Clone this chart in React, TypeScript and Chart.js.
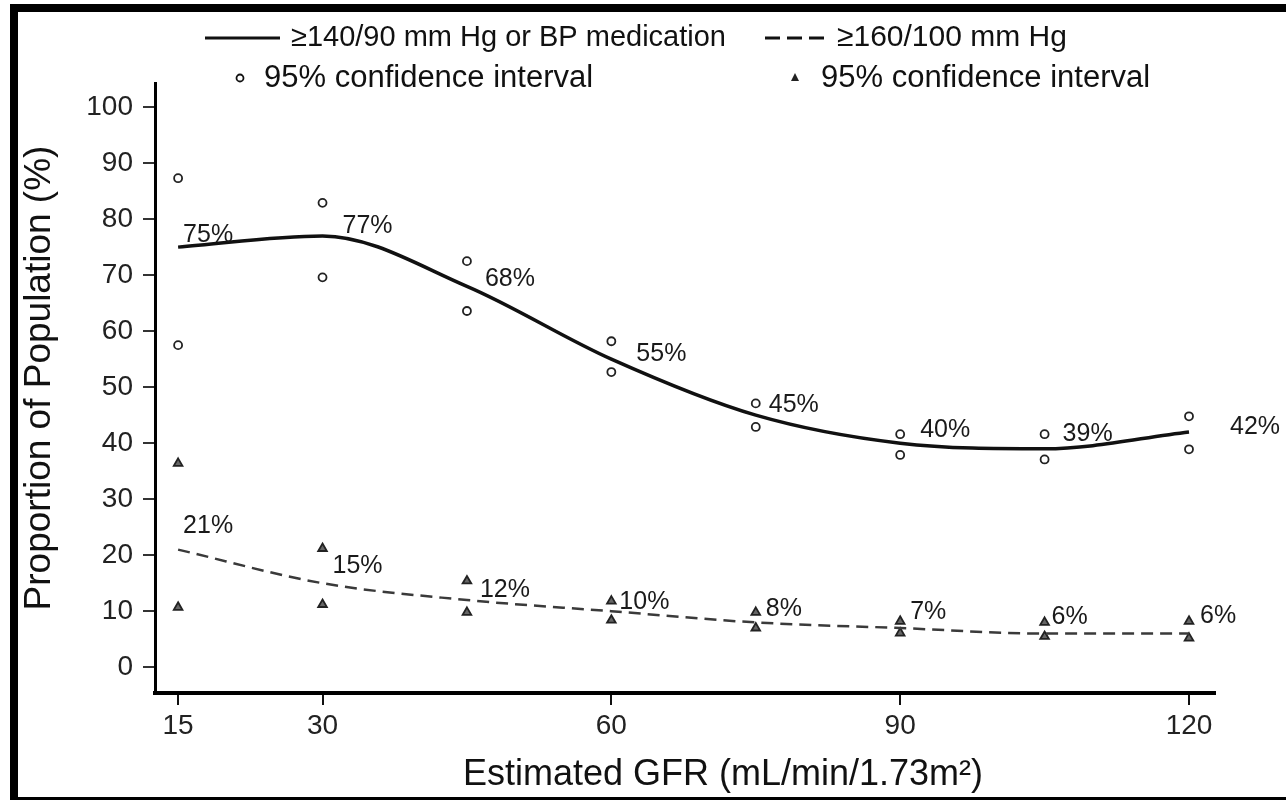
import React, { useEffect, useRef } from "react";
import { Chart, registerables } from "chart.js";

Chart.register(...registerables);

const xValues = [15, 30, 45, 60, 75, 90, 105, 120];
const htnValues = [75, 77, 68, 55, 45, 40, 39, 42];
const htnCiUpper = [87.3, 82.9, 72.5, 58.2, 47.1, 41.6, 41.6, 44.8];
const htnCiLower = [57.5, 69.6, 63.6, 52.7, 42.9, 37.9, 37.1, 38.9];
const severeValues = [21, 15, 12, 10, 8, 7, 6, 6];
const severeCiUpper = [36.4, 21.2, 15.4, 11.8, 9.8, 8.2, 8.0, 8.2];
const severeCiLower = [10.7, 11.2, 9.8, 8.4, 7.0, 6.1, 5.5, 5.2];
const xTickValues = [15, 30, 60, 90, 120];
const yTickValues = [0, 10, 20, 30, 40, 50, 60, 70, 80, 90, 100];

const legendLabels = [
  "\u2265140/90 mm Hg or BP medication",
  "\u2265160/100 mm Hg",
  "95% confidence interval",
  "95% confidence interval",
];
const xTitle = "Estimated GFR (mL/min/1.73m\u00B2)";
const yTitle = "Proportion of Population (%)";

const FONT = '"Liberation Sans", Arial, Helvetica, sans-serif';

const toPoints = (ys: number[]) => xValues.map((x, i) => ({ x, y: ys[i] }));

// label offsets (pixels) relative to each point
const htnLabelOffsets = [
  [5, -12], [20, -10], [18, -7], [25, -5], [13, -10], [20, -13], [18, -15], [41, -5],
];
const severeLabelOffsets = [
  [5, -23], [10, -17], [13, -10], [8, -9], [10, -13], [10, -16], [7, -17], [11, -18],
];

const decorPlugin = {
  id: "decor",
  afterDatasetsDraw(chart: any) {
    const ctx = chart.ctx;
    ctx.save();
    ctx.fillStyle = "#1a1a1a";
    ctx.font = `25px ${FONT}`;
    ctx.textAlign = "left";
    ctx.textBaseline = "middle";
    const m0 = chart.getDatasetMeta(0);
    const m1 = chart.getDatasetMeta(1);
    m0.data.forEach((pt: any, i: number) => {
      const [dx, dy] = htnLabelOffsets[i];
      ctx.fillText(`${htnValues[i]}%`, pt.x + dx, pt.y + dy);
    });
    m1.data.forEach((pt: any, i: number) => {
      const [dx, dy] = severeLabelOffsets[i];
      ctx.fillText(`${severeValues[i]}%`, pt.x + dx, pt.y + dy);
    });
    ctx.restore();
  },
  afterDraw(chart: any) {
    const ctx = chart.ctx;
    ctx.save();
    // frame
    ctx.fillStyle = "#000";
    ctx.fillRect(10, 4, 1276, 8);
    ctx.fillRect(10, 4, 8, 796);
    ctx.fillRect(10, 797, 1276, 3);

    // legend
    ctx.fillStyle = "#111";
    ctx.textBaseline = "middle";
    ctx.textAlign = "left";
    ctx.strokeStyle = "#111";
    ctx.lineWidth = 3;
    ctx.beginPath();
    ctx.moveTo(205, 38);
    ctx.lineTo(280, 38);
    ctx.stroke();
    ctx.font = `29px ${FONT}`;
    ctx.fillText(legendLabels[0], 291, 38);
    ctx.setLineDash([15, 7]);
    ctx.beginPath();
    ctx.moveTo(765, 38);
    ctx.lineTo(827, 38);
    ctx.stroke();
    ctx.setLineDash([]);
    ctx.font = `30px ${FONT}`;
    ctx.fillText(legendLabels[1], 837, 38);
    ctx.lineWidth = 1.8;
    ctx.beginPath();
    ctx.arc(240, 78, 3.5, 0, Math.PI * 2);
    ctx.stroke();
    ctx.font = `31px ${FONT}`;
    ctx.fillText(legendLabels[2], 264, 78);
    ctx.beginPath();
    ctx.moveTo(795, 73);
    ctx.lineTo(799, 81);
    ctx.lineTo(791, 81);
    ctx.closePath();
    ctx.fillStyle = "#222";
    ctx.fill();
    ctx.fillStyle = "#111";
    ctx.fillText(legendLabels[3], 821, 78);

    // axis titles
    ctx.font = `36px ${FONT}`;
    ctx.textAlign = "center";
    ctx.textBaseline = "middle";
    ctx.fillText(xTitle, 723, 775);
    ctx.font = `37px ${FONT}`;
    ctx.translate(40, 378);
    ctx.rotate(-Math.PI / 2);
    ctx.fillText(yTitle, 0, 0);
    ctx.restore();
  },
};

export default function App() {
  const canvasRef = useRef<HTMLCanvasElement | null>(null);

  useEffect(() => {
    const canvas = canvasRef.current;
    if (!canvas) return;
    const circleStyle = {
      showLine: false,
      pointStyle: "circle",
      pointRadius: 4,
      pointBorderWidth: 1.8,
      pointBorderColor: "#222",
      pointBackgroundColor: "#fff",
    };
    const triangleStyle = {
      showLine: false,
      pointStyle: "triangle",
      pointRadius: 5,
      pointBorderWidth: 1.8,
      pointBorderColor: "#222",
      pointBackgroundColor: "#666",
    };
    const chart = new Chart(canvas, {
      type: "line",
      data: {
        datasets: [
          {
            label: legendLabels[0],
            data: toPoints(htnValues),
            borderColor: "#111",
            borderWidth: 3.5,
            pointRadius: 0,
            cubicInterpolationMode: "monotone",
            fill: false,
          },
          {
            label: legendLabels[1],
            data: toPoints(severeValues),
            borderColor: "#3a3a3a",
            borderWidth: 2.5,
            borderDash: [12, 7],
            pointRadius: 0,
            cubicInterpolationMode: "monotone",
            fill: false,
          },
          { label: "CI upper (circle)", data: toPoints(htnCiUpper), ...circleStyle },
          { label: "CI lower (circle)", data: toPoints(htnCiLower), ...circleStyle },
          { label: "CI upper (triangle)", data: toPoints(severeCiUpper), ...triangleStyle },
          { label: "CI lower (triangle)", data: toPoints(severeCiLower), ...triangleStyle },
        ],
      },
      options: {
        responsive: false,
        animation: false,
        layout: { padding: { top: 83, left: 0, right: 71, bottom: 0 } },
        plugins: {
          legend: { display: false },
          tooltip: { enabled: false },
          title: { display: false },
        },
        scales: {
          x: {
            type: "linear",
            min: 12.6,
            max: 122.7,
            afterBuildTicks: (scale: any) => {
              scale.ticks = xTickValues.map((v) => ({ value: v }));
            },
            afterFit: (scale: any) => {
              scale.height = 107;
            },
            ticks: {
              font: { family: FONT, size: 28 },
              color: "#222",
              padding: 4,
              maxRotation: 0,
              autoSkip: false,
            },
            grid: {
              display: true,
              drawOnChartArea: false,
              drawTicks: true,
              tickLength: 12,
              color: "#111",
              lineWidth: 2,
            },
            border: { display: true, color: "#000", width: 4 },
          },
          y: {
            type: "linear",
            min: -4.6,
            max: 104.3,
            afterBuildTicks: (scale: any) => {
              scale.ticks = yTickValues.map((v) => ({ value: v }));
            },
            afterFit: (scale: any) => {
              scale.width = 155;
            },
            ticks: {
              font: { family: FONT, size: 28 },
              color: "#222",
              padding: 10,
              autoSkip: false,
            },
            grid: {
              display: true,
              drawOnChartArea: false,
              drawTicks: true,
              tickLength: 12,
              color: "#333",
              lineWidth: 2,
            },
            border: { display: true, color: "#000", width: 3 },
          },
        },
      },
      plugins: [decorPlugin],
    } as any);
    return () => chart.destroy();
  }, []);

  return (
    <div style={{ position: "fixed", left: 0, top: 0, width: 1286, height: 800, background: "#fff" }}>
      <canvas ref={canvasRef} width={1286} height={800} style={{ display: "block" }} />
    </div>
  );
}
